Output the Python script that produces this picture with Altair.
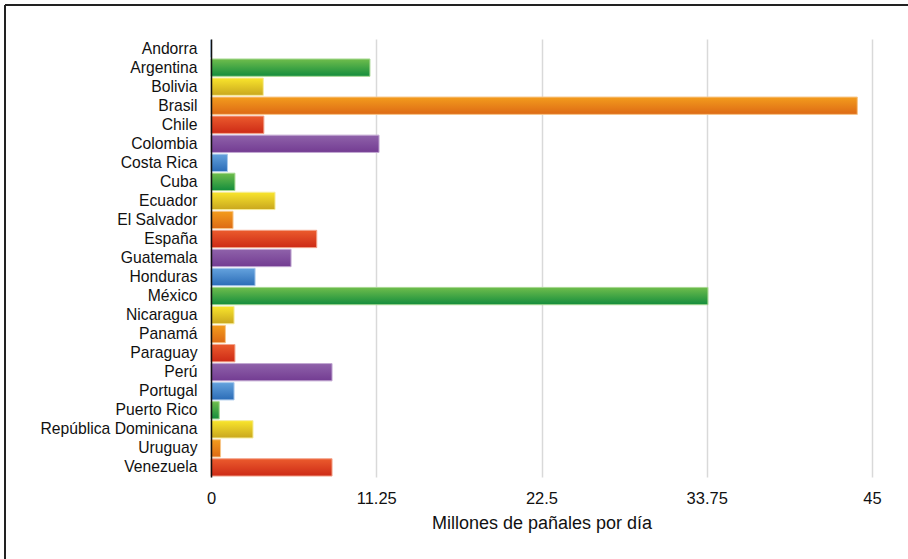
import altair as alt
import pandas as pd

paises = ["Andorra", "Argentina", "Bolivia", "Brasil", "Chile", "Colombia",
          "Costa Rica", "Cuba", "Ecuador", "El Salvador", "España", "Guatemala",
          "Honduras", "México", "Nicaragua", "Panamá", "Paraguay", "Perú",
          "Portugal", "Puerto Rico", "República Dominicana", "Uruguay", "Venezuela"]
valores = [0, 10.82, 3.56, 44.0, 3.6, 11.44,
           1.12, 1.63, 4.36, 1.5, 7.2, 5.45,
           3.0, 33.83, 1.57, 0.98, 1.63, 8.24,
           1.57, 0.56, 2.86, 0.65, 8.24]
grupos_ciclo = ["azul", "verde", "amarillo", "naranja", "rojo", "morado"]
grupos = [grupos_ciclo[i % 6] for i in range(len(paises))]
ticks_x = [0, 11.25, 22.5, 33.75, 45]

degradados = {
    "verde": ("#6fbd4c", "#148d3d", "#a6d891"),
    "amarillo": ("#f9e52c", "#c9a71e", "#f6ec9a"),
    "naranja": ("#f39c1d", "#dd6a15", "#f7c68a"),
    "rojo": ("#eb5b2d", "#cd2a16", "#f3a48c"),
    "morado": ("#8f62aa", "#733c92", "#c2a8d2"),
    "azul": ("#64a2dd", "#2b6cb7", "#a9c9ec"),
}

df = pd.DataFrame({"pais": paises, "valor": valores, "grupo": grupos})

W, H = 661, 438
PL, PT = 211, 39

x_enc = alt.X("valor:Q", title="Millones de pañales por día",
              scale=alt.Scale(domain=[0, 45], nice=False),
              axis=alt.Axis(values=ticks_x, labelExpr="'' + datum.value",
                            domain=False, ticks=False, grid=True,
                            gridColor="#d9d9d9", gridWidth=1.5,
                            labelFlush=False,
                            labelFontSize=16.5, labelPadding=13,
                            titleFontSize=18, titlePadding=8,
                            titleFontWeight="normal"))
y_enc = alt.Y("pais:N", title=None,
              scale=alt.Scale(domain=paises, paddingInner=0.09, paddingOuter=0.05),
              axis=alt.Axis(domain=True, domainColor="#111111", domainWidth=1.5,
                            ticks=False, labelFontSize=15.7, labelPadding=14,
                            grid=False, zindex=1))

capas = []
for g, (c1, c2, cs) in degradados.items():
    grad = alt.Gradient(gradient="linear",
                        stops=[alt.GradientStop(color=c1, offset=0),
                               alt.GradientStop(color=c2, offset=1)],
                        x1=0, x2=0, y1=0, y2=1)
    capas.append(
        alt.Chart(df).transform_filter(alt.datum.grupo == g)
        .mark_bar(color=grad, stroke=cs, strokeWidth=1)
        .encode(x=x_enc, y=y_enc)
    )

marco_sup = alt.Chart(df).mark_rule(color="#222222", strokeWidth=2).encode(
    x=alt.value(5 - PL), x2=alt.value(908 - PL + 5), y=alt.value(5 - PT))
marco_izq = alt.Chart(df).mark_rule(color="#222222", strokeWidth=2).encode(
    x=alt.value(5 - PL), y=alt.value(5 - PT), y2=alt.value(559 - PT + 5))

chart = alt.layer(*capas, marco_sup, marco_izq).properties(
    width=W, height=H,
    autosize=alt.AutoSizeParams(type="none"),
    padding={"left": PL, "top": PT, "right": 908 - PL - W, "bottom": 559 - PT - H},
    background="white",
).configure_view(stroke=None).configure_axis(
    labelFont="Liberation Sans", titleFont="Liberation Sans",
    labelColor="#111111", titleColor="#111111",
)

chart.save("out.html", embed_options={"renderer": "svg", "actions": False})
